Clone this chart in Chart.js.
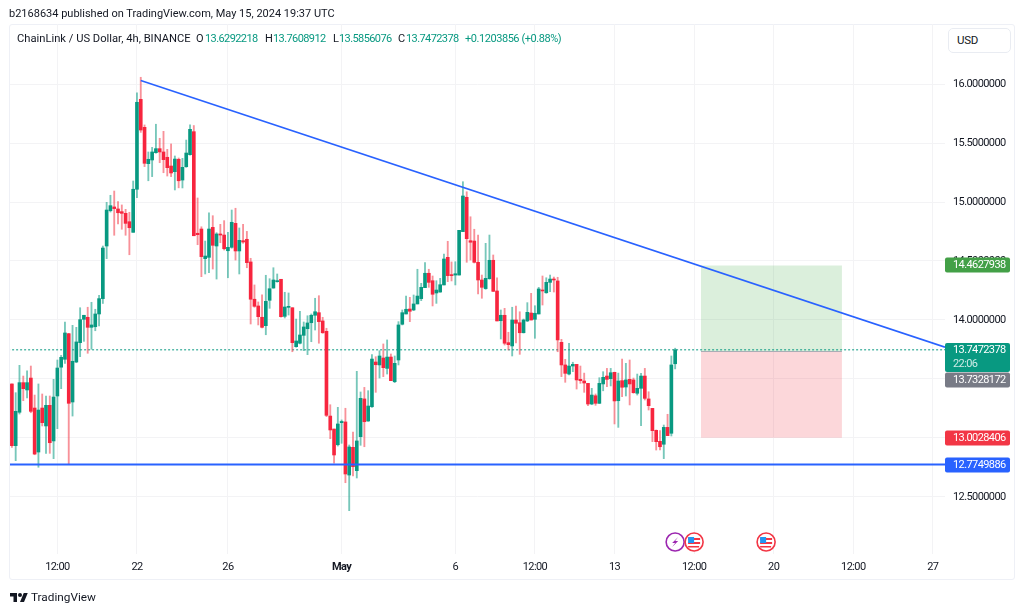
<!DOCTYPE html>
<html>
<head>
<meta charset="utf-8">
<title>ChainLink / US Dollar</title>
<style>
  html, body { margin: 0; padding: 0; background: #fff; width: 1024px; height: 611px; overflow: hidden; }
  body { position: relative; font-family: Roboto, sans-serif; color: #131722; }
  #frame { position: absolute; left: 9px; top: 24px; width: 1004px; height: 554px; border: 1.5px solid #eef0f6; border-radius: 3px; }
  #myChart { position: absolute; left: 0; top: 0; }
  .txt { position: absolute; white-space: nowrap; font-size: 11px; line-height: 14px; }
  .num { letter-spacing: -0.6px; }
  .up { color: #089981; }
  #usd { position: absolute; left: 948px; top: 28px; width: 61px; height: 23px; border: 1px solid #e9ecf2; border-radius: 5px; font-size: 11.5px; line-height: 23px; text-indent: 8px; background: #fff; letter-spacing: -0.3px; }
  #logo { position: absolute; left: 10px; top: 591px; width: 18px; height: 14px; }
</style>
</head>
<body>
<div id="frame"></div>
<canvas id="myChart" width="1024" height="611"></canvas>
<div class="txt" style="left:9px;top:7px">b2168634 published on TradingView.com, May 15, 2024 19:37 UTC</div>
<div class="txt" style="left:17px;top:32px;font-size:11.2px">ChainLink / US Dollar, 4h, BINANCE</div>
<div class="txt" style="left:196px;top:32px">O</div><div class="txt up num" style="left:205px;top:32px">13.6292218</div>
<div class="txt" style="left:265px;top:32px">H</div><div class="txt up num" style="left:273px;top:32px">13.7608912</div>
<div class="txt" style="left:333px;top:32px">L</div><div class="txt up num" style="left:339px;top:32px">13.5856076</div>
<div class="txt" style="left:398px;top:32px">C</div><div class="txt up num" style="left:406px;top:32px">13.7472378</div>
<div class="txt up" style="left:465px;top:32px;letter-spacing:-0.45px">+0.1203856 (+0.88%)</div>
<div id="usd">USD</div>
<svg id="logo" viewBox="0 0 36 28"><path d="M14 22H7V11H0V4h14v18zM28 22h-8l7.5-18h8L28 22z" fill="#131722"/><circle cx="20" cy="8" r="4" fill="#131722"/></svg>
<div class="txt" style="left:31px;top:590px;font-size:11.8px;line-height:15px">TradingView</div>

<script src="https://cdn.jsdelivr.net/npm/chart.js@4"></script>
<script>
const opens = [
  13.458, 12.935, 13.218, 13.469, 13.407, 13.508, 13.254, 12.881, 13.254, 13.102, 13.277, 12.975, 13.356, 13.6, 13.667, 13.884,
  13.305, 13.644, 13.808, 14.006, 14.023, 13.938, 13.943, 14.051, 14.181, 14.627, 14.926, 14.958, 14.941, 14.918, 14.904, 14.833,
  14.743, 15.108, 15.87, 15.633, 15.325, 15.356, 15.418, 15.452, 15.424, 15.379, 15.305, 15.257, 15.362, 15.186, 15.299, 15.401,
  15.596, 14.735, 14.771, 14.52, 14.531, 14.785, 14.627, 14.729, 14.72, 14.587, 14.616, 14.819, 14.585, 14.672, 14.684, 14.492,
  14.176, 14.119, 14.023, 13.952, 14.167, 14.271, 14.325, 14.345, 14.031, 14.107, 14.104, 13.774, 13.803, 13.87, 13.926, 13.977,
  14.04, 14.062, 13.992, 13.904, 13.186, 13.076, 12.943, 13.13, 13.136, 12.686, 12.921, 12.723, 13.011, 13.331, 13.144, 13.265,
  13.644, 13.619, 13.678, 13.59, 13.686, 13.477, 13.661, 13.964, 14.051, 14.093, 14.085, 14.136, 14.181, 14.274, 14.396, 14.333,
  14.229, 14.237, 14.297, 14.531, 14.384, 14.381, 14.381, 14.749, 15.04, 14.672, 14.669, 14.489, 14.339, 14.266, 14.35, 14.506,
  14.246, 13.994, 14.04, 13.808, 13.78, 14.0, 13.977, 13.892, 13.992, 14.059, 14.006, 14.051, 14.254, 14.231, 14.319, 14.345,
  14.331, 13.811, 13.619, 13.542, 13.61, 13.624, 13.497, 13.483, 13.463, 13.288, 13.358, 13.294, 13.458, 13.525, 13.503, 13.557,
  13.316, 13.486, 13.432, 13.497, 13.492, 13.379, 13.421, 13.525, 13.331, 13.251, 13.065, 12.972, 12.947, 13.09, 13.04, 13.6292218
];
const highs = [
  13.458, 13.384, 13.616, 13.525, 13.57, 13.61, 13.364, 13.458, 13.373, 13.356, 13.356, 13.497, 13.661, 13.7, 13.983, 13.887,
  13.955, 13.938, 14.104, 14.04, 14.108, 14.15, 14.091, 14.209, 14.627, 14.997, 15.057, 15.093, 15.003, 14.975, 14.938, 14.913,
  15.178, 15.926, 16.057, 15.653, 15.424, 15.463, 15.659, 15.54, 15.599, 15.446, 15.492, 15.39, 15.373, 15.37, 15.525, 15.653,
  15.648, 15.034, 14.79, 14.669, 14.909, 14.884, 14.74, 14.811, 14.842, 14.743, 14.932, 14.947, 14.78, 14.811, 14.751, 14.523,
  14.297, 14.153, 14.214, 14.379, 14.35, 14.443, 14.39, 14.345, 14.235, 14.229, 14.104, 14.008, 14.073, 13.983, 14.036, 14.051,
  14.184, 14.206, 14.023, 13.93, 13.282, 13.076, 13.26, 13.153, 13.252, 12.941, 13.051, 13.565, 13.39, 13.429, 13.401, 13.706,
  13.689, 13.74, 13.797, 13.831, 13.712, 13.695, 13.986, 14.085, 14.203, 14.192, 14.212, 14.43, 14.311, 14.486, 14.43, 14.373,
  14.333, 14.353, 14.559, 14.667, 14.492, 14.494, 14.76, 15.172, 15.087, 14.875, 14.769, 14.72, 14.381, 14.65, 14.72, 14.551,
  14.358, 14.085, 14.099, 13.896, 14.108, 14.119, 14.07, 14.008, 14.147, 14.226, 14.121, 14.277, 14.373, 14.358, 14.381, 14.364,
  14.362, 13.836, 13.667, 13.803, 13.642, 13.624, 13.61, 13.55, 13.463, 13.421, 13.373, 13.511, 13.562, 13.59, 13.59, 13.557,
  13.55, 13.669, 13.633, 13.661, 13.508, 13.542, 13.548, 13.59, 13.392, 13.251, 13.068, 13.062, 13.11, 13.201, 13.695, 13.7608912
];
const lows = [
  12.92, 12.808, 13.203, 13.316, 13.339, 13.214, 12.858, 12.752, 13.102, 12.87, 12.87, 12.825, 13.079, 13.418, 13.633, 12.78,
  13.186, 13.638, 13.689, 13.819, 13.718, 13.752, 13.909, 13.949, 14.14, 14.52, 14.915, 14.718, 14.814, 14.769, 14.718, 14.553,
  14.743, 15.036, 15.59, 15.3, 15.18, 15.215, 15.413, 15.333, 15.248, 15.22, 15.215, 15.102, 15.12, 15.119, 15.294, 15.396,
  14.714, 14.638, 14.367, 14.39, 14.401, 14.432, 14.347, 14.655, 14.593, 14.358, 14.608, 14.508, 14.39, 14.65, 14.443, 13.966,
  14.108, 13.958, 13.932, 13.875, 14.099, 14.269, 14.32, 14.023, 14.017, 14.042, 13.731, 13.769, 13.797, 13.74, 13.706, 13.816,
  13.915, 13.803, 13.887, 13.181, 12.994, 12.786, 12.932, 12.955, 12.621, 12.384, 12.678, 12.661, 12.938, 12.926, 13.141, 13.26,
  13.387, 13.508, 13.52, 13.542, 13.486, 13.469, 13.619, 13.958, 14.051, 13.986, 14.079, 14.136, 14.164, 14.274, 14.277, 14.119,
  14.141, 14.235, 14.297, 14.325, 14.331, 14.297, 14.381, 14.749, 14.489, 14.508, 14.483, 14.22, 14.184, 14.26, 14.345, 14.24,
  13.992, 13.839, 13.788, 13.746, 13.695, 13.805, 13.709, 13.89, 13.986, 14.0, 13.845, 14.051, 14.127, 14.226, 14.24, 14.237,
  13.731, 13.52, 13.472, 13.534, 13.562, 13.415, 13.463, 13.387, 13.274, 13.282, 13.277, 13.291, 13.4, 13.435, 13.441, 13.119,
  13.09, 13.35, 13.356, 13.28, 13.379, 13.364, 13.104, 13.322, 13.237, 12.969, 12.898, 12.898, 12.825, 13.02, 13.017, 13.5856076
];
const closes = [
  12.935, 13.226, 13.469, 13.418, 13.469, 13.226, 12.864, 13.237, 13.13, 13.277, 12.96, 13.347, 13.593, 13.684, 13.89, 13.294,
  13.65, 13.814, 14.003, 14.04, 13.938, 13.958, 14.051, 14.181, 14.61, 14.932, 14.969, 14.944, 14.909, 14.904, 14.819, 14.782,
  15.108, 15.845, 15.61, 15.328, 15.362, 15.424, 15.452, 15.424, 15.359, 15.291, 15.246, 15.364, 15.18, 15.294, 15.415, 15.616,
  14.714, 14.723, 14.537, 14.542, 14.771, 14.633, 14.729, 14.72, 14.604, 14.616, 14.828, 14.585, 14.675, 14.661, 14.486, 14.176,
  14.116, 14.028, 13.938, 14.158, 14.265, 14.339, 14.333, 14.028, 14.11, 14.116, 13.808, 13.822, 13.873, 13.941, 13.975, 14.04,
  14.07, 13.986, 13.892, 13.192, 13.068, 12.856, 13.119, 13.14, 12.695, 12.924, 12.757, 12.975, 13.336, 13.138, 13.271, 13.669,
  13.621, 13.695, 13.596, 13.686, 13.486, 13.633, 13.958, 14.062, 14.091, 14.074, 14.136, 14.203, 14.277, 14.396, 14.319, 14.218,
  14.254, 14.299, 14.517, 14.376, 14.376, 14.392, 14.76, 15.051, 14.689, 14.659, 14.489, 14.339, 14.277, 14.353, 14.506, 14.243,
  13.992, 14.04, 13.803, 13.791, 14.0, 13.972, 13.892, 14.0, 14.065, 14.0, 14.057, 14.263, 14.246, 14.319, 14.347, 14.339,
  13.831, 13.619, 13.548, 13.61, 13.624, 13.492, 13.486, 13.466, 13.288, 13.364, 13.294, 13.463, 13.514, 13.497, 13.553, 13.314,
  13.483, 13.43, 13.492, 13.458, 13.384, 13.421, 13.525, 13.336, 13.274, 13.062, 12.969, 12.926, 13.09, 13.02, 13.619, 13.7472378
];

const xTicks = [12, 33, 57, 87, 117, 138, 159, 180, 201, 222, 243];
const xLabels = ['12:00', '22', '26', 'May', '6', '12:00', '13', '12:00', '20', '12:00', '27'];
const yTicks = [16, 15.5, 15, 14.5, 14, 13.5, 13, 12.5];

const trendX = [34, 246.2];
const trendY = [16.03, 13.77];
const supportLevel = 12.7749886;
const lastPrice = 13.7472378;
const positionX = [181.8, 219];
const positionTop = 14.4627938;
const positionMid = 13.7328172;
const positionBottom = 13.0028406;

const tagValues = [14.4627938, 13.7328172, 13.0028406, 12.7749886];
const tagColors = ['#43a047', '#787b86', '#f23645', '#2962ff'];
const tagShift = [0, 28, 0, 0]; // gray tag gets pushed below the last price tag
const eventX = [175, 180, 199];

const upColor = '#089981', downColor = '#f7253e';
const upWick = 'rgba(8,153,129,.55)', downWick = 'rgba(242,54,69,.55)';

const isUp = i => closes[i] >= opens[i];
const wicks = lows.map((l, i) => ({ x: i, y: [l, highs[i]] }));
const bodies = opens.map((o, i) => ({ x: i, y: [o, closes[i]] }));
const flatLine = (xs, v) => xs.map(x => ({ x: x, y: v }));
const xEnd = 246.2;

const tagsPlugin = {
  id: 'tags',
  beforeDraw(chart) {
    // the reference digits run narrower than Roboto
    chart.ctx.letterSpacing = '-0.6px';
  },
  afterDraw(chart) {
    const c = chart.ctx, ys = chart.scales.y, xs = chart.scales.x;
    c.save();
    // event icons under the price pane
    eventX.forEach((e, n) => {
      const x = xs.getPixelForValue(e), y = 542;
      const purple = n === 0;
      c.beginPath();
      c.arc(x, y, 9, 0, Math.PI * 2);
      c.fillStyle = '#fff';
      c.fill();
      c.lineWidth = 1.6;
      c.strokeStyle = purple ? '#9c27b0' : '#f23645';
      c.stroke();
      if (purple) {
        c.fillStyle = '#9c27b0';
        c.beginPath();
        c.moveTo(x + 3, y - 5); c.lineTo(x - 3, y + 1); c.lineTo(x, y + 1);
        c.lineTo(x - 3, y + 5); c.lineTo(x + 3, y - 1); c.lineTo(x, y - 1);
        c.closePath();
        c.fill();
      } else {
        c.fillStyle = '#f23645';
        c.fillRect(x - 6, y - 4, 12, 2);
        c.fillRect(x - 6, y, 12, 2);
        c.fillRect(x - 6, y + 4, 11, 1.5);
        c.fillStyle = '#2196f3';
        c.fillRect(x - 6, y - 5, 6, 6);
      }
    });
    // price tags on the axis
    c.font = '11px Roboto';
    c.textBaseline = 'middle';
    tagValues.forEach((v, i) => {
      const y = Math.round(ys.getPixelForValue(v)) + tagShift[i];
      c.fillStyle = tagColors[i];
      c.beginPath();
      c.roundRect(945, y - 7.5, 65, 15, 2);
      c.fill();
      c.fillStyle = '#fff';
      c.fillText(v.toFixed(7), 953, y + 0.5);
    });
    const y = ys.getPixelForValue(lastPrice);
    c.fillStyle = upColor;
    c.beginPath();
    c.roundRect(945, 343, 65, 29, 2);
    c.fill();
    c.fillStyle = '#fff';
    c.fillText(lastPrice.toFixed(7), 953, y + 0.5);
    c.fillStyle = 'rgba(255,255,255,.8)';
    c.fillText('22:06', 953, y + 14.5);
    c.restore();
  }
};

const ctx = document.getElementById('myChart').getContext('2d');
const myChart = new Chart(ctx, {
  type: 'bar',
  plugins: [tagsPlugin],
  data: {
    datasets: [
      {
        type: 'line', order: 9, data: flatLine(positionX, positionTop),
        borderWidth: 0, pointRadius: 0, backgroundColor: 'rgba(76,175,80,.2)', fill: { value: positionMid }
      },
      {
        type: 'line', order: 9, data: flatLine(positionX, positionBottom),
        borderWidth: 0, pointRadius: 0, backgroundColor: 'rgba(242,54,69,.2)', fill: { value: positionMid }
      },
      {
        type: 'line', order: 8, data: flatLine(positionX, positionMid),
        borderWidth: 1, borderColor: '#a9acb4', pointRadius: 0
      },
      {
        type: 'line', order: 7, data: flatLine([-1, xEnd], lastPrice),
        borderWidth: 1, borderColor: upColor, borderDash: [2, 2], pointRadius: 0
      },
      {
        label: 'wicks', order: 5, data: wicks, grouped: false, barThickness: 1.2, borderWidth: 0,
        backgroundColor: c => isUp(c.dataIndex) ? upWick : downWick
      },
      {
        label: 'bodies', order: 4, data: bodies, grouped: false, barThickness: 3, borderWidth: 0, minBarLength: 1,
        backgroundColor: c => isUp(c.dataIndex) ? upColor : downColor
      },
      {
        type: 'line', order: 2, data: trendX.map((x, i) => ({ x: x, y: trendY[i] })),
        borderWidth: 1.6, borderColor: '#2962ff', pointRadius: 0
      },
      {
        type: 'line', order: 1, data: flatLine([-1, xEnd], supportLevel),
        borderWidth: 2, borderColor: '#2962ff', pointRadius: 0
      }
    ]
  },
  options: {
    responsive: false,
    animation: false,
    events: [],
    layout: { padding: { left: 10, top: 24, right: 10, bottom: 32 } },
    plugins: { legend: { display: false }, tooltip: { enabled: false } },
    scales: {
      x: {
        type: 'linear',
        offset: false,
        min: -0.5,
        max: xEnd,
        afterBuildTicks(s) { s.ticks = xTicks.map(v => ({ value: v })); },
        afterFit(s) { s.height = 25; },
        grid: { offset: false, color: '#f3f3f5', drawTicks: false },
        border: { display: false },
        ticks: {
          autoSkip: false,
          maxRotation: 0,
          padding: 7,
          color: '#131722',
          font: c => ({ family: 'Roboto', size: 11, weight: c.tick && c.tick.value === 87 ? 'bold' : 'normal' }),
          callback: v => xLabels[xTicks.indexOf(v)]
        }
      },
      y: {
        position: 'right',
        min: 12.0169,
        max: 16.5085,
        afterBuildTicks(s) { s.ticks = yTicks.map(v => ({ value: v })); },
        afterFit(s) { s.width = 69; },
        grid: { color: '#f3f3f5', drawTicks: false },
        border: { display: false },
        ticks: {
          padding: 8,
          color: '#131722',
          font: { family: 'Roboto', size: 11 },
          callback: v => v.toFixed(7)
        }
      }
    }
  }
});
</script>
</body>
</html>
